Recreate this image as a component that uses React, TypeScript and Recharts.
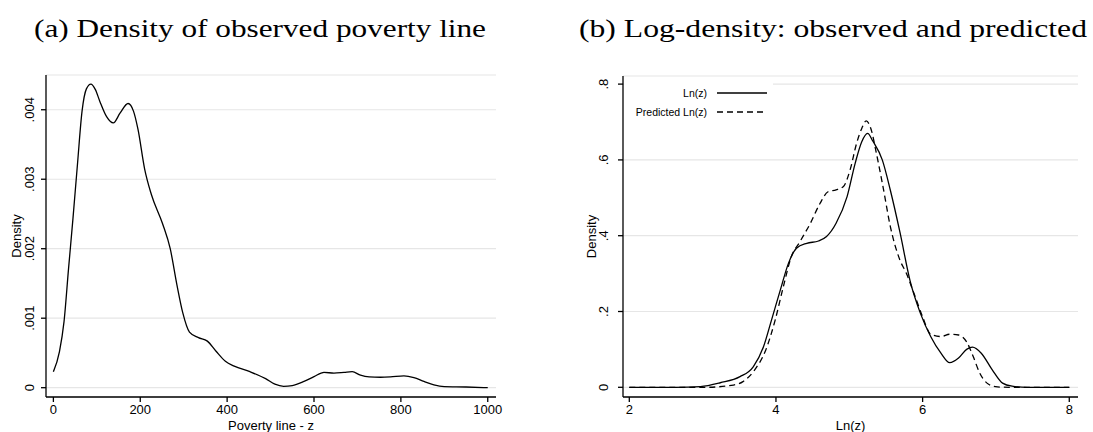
import { LineChart, Line, XAxis, YAxis, CartesianGrid, Legend } from "recharts";

// (a) observed poverty line density
const povertyLineZ = [
  0, 14, 24.5, 35, 45, 55.5, 66, 76, 86.4, 96.7, 107, 122.5, 138, 153.4, 172, 184.4, 194.7, 210, 225.6, 251.4,
  269, 284.4, 297.8, 313.3, 334, 354.5, 375, 396, 416.4, 452.5, 488.6, 510, 530, 550, 577, 600, 623, 646, 669,
  688, 707, 727, 753, 776, 807, 830, 853, 876, 900, 950, 1000,
];
const povertyLineDensity = [
  0.00023, 0.00052, 0.00095, 0.00172, 0.00243, 0.00322, 0.00398, 0.0043, 0.00437, 0.00429, 0.00412, 0.0039,
  0.00381, 0.00395, 0.00409, 0.00398, 0.00372, 0.00315, 0.00278, 0.00236, 0.002, 0.00148, 0.00108, 0.0008,
  0.00072, 0.00067, 0.00052, 0.00038, 0.00031, 0.00023, 0.00013, 0.00005, 0.00002, 0.00003, 0.00009, 0.00016,
  0.00022, 0.00021, 0.00022, 0.00023, 0.00018, 0.000155, 0.00015, 0.000155, 0.00017, 0.000145, 0.00009,
  0.00004, 0.000015, 0.00001, 0,
];
const povertyTicksX = [0, 200, 400, 600, 800, 1000];
const povertyTicksY = [0, 0.001, 0.002, 0.003, 0.004];

// (b) log density, observed and predicted
const lnZ = [
  2, 2.63, 2.97, 3.24, 3.51, 3.69, 3.83, 3.94, 4.06, 4.17, 4.28, 4.42, 4.58, 4.69, 4.82, 4.97, 5.08, 5.17,
  5.25, 5.32, 5.45, 5.56, 5.69, 5.83, 5.97, 6.11, 6.25, 6.37, 6.49, 6.6, 6.68, 6.8, 6.95, 7.09, 7.22, 7.43, 8,
];
const lnZDensity = [
  0, 0, 0.002, 0.012, 0.028, 0.054, 0.107, 0.178, 0.257, 0.327, 0.367, 0.38, 0.386, 0.398, 0.433, 0.503, 0.591,
  0.648, 0.67, 0.65, 0.6, 0.52, 0.41, 0.28, 0.195, 0.134, 0.09, 0.065, 0.077, 0.1, 0.106, 0.09, 0.046, 0.011,
  0.003, 0, 0,
];
const predLnZ = [
  2, 3.04, 3.42, 3.55, 3.71, 3.86, 3.99, 4.1, 4.21, 4.32, 4.47, 4.6, 4.71, 4.82, 4.92, 5.01, 5.1, 5.17, 5.23,
  5.3, 5.37, 5.46, 5.56, 5.69, 5.78, 5.88, 6.0, 6.11, 6.25, 6.37, 6.49, 6.6, 6.69, 6.78, 6.9, 7.02, 7.22, 8,
];
const predLnZDensity = [
  0, 0, 0.006, 0.015, 0.046, 0.098, 0.178, 0.265, 0.345, 0.382, 0.433, 0.485, 0.516, 0.521, 0.53, 0.573, 0.644,
  0.683, 0.703, 0.679, 0.617, 0.529, 0.424, 0.336, 0.3, 0.249, 0.186, 0.14, 0.134, 0.14, 0.138, 0.12, 0.081,
  0.037, 0.008, 0.001, 0, 0,
];
const lnTicksX = [2, 4, 6, 8];
const lnTicksY = [0, 0.2, 0.4, 0.6, 0.8];

const povertyData = povertyLineZ.map((z, i) => ({ z, density: povertyLineDensity[i] }));
const observedData = lnZ.map((x, i) => ({ x, density: lnZDensity[i] }));
const predictedData = predLnZ.map((x, i) => ({ x, density: predLnZDensity[i] }));

const SANS = "'Liberation Sans', Arial, Helvetica, sans-serif";
const GRID = "#e6e6e6";

const fmtDensity = (v: number) => (v === 0 ? "0" : String(v).replace(/^0/, ""));

function RotTick(props: any) {
  const { x, y, payload, shift } = props;
  const cx = x - shift;
  return (
    <text
      x={cx}
      y={y}
      transform={`rotate(-90, ${cx}, ${y})`}
      textAnchor="middle"
      dominantBaseline="central"
      fontSize={13}
      fontFamily={SANS}
      fill="#000"
    >
      {fmtDensity(payload.value)}
    </text>
  );
}

function yTitle(cx: number) {
  return (props: any) => {
    const vb = props.viewBox || {};
    const cy = vb.y + vb.height / 2;
    return (
      <text
        x={cx}
        y={cy}
        transform={`rotate(-90, ${cx}, ${cy})`}
        textAnchor="middle"
        dominantBaseline="central"
        fontSize={13}
        fontFamily={SANS}
        fill="#000"
      >
        Density
      </text>
    );
  };
}

const legendRowY = [15, 34];

function LegendBox(props: any) {
  const payload = props.payload || [];
  return (
    <svg width={149} height={44} style={{ display: "block", background: "#fff" }}>
      {payload.map((entry: any, i: number) => (
        <g key={entry.value}>
          <text
            x={83}
            y={legendRowY[i]}
            textAnchor="end"
            dominantBaseline="central"
            fontSize={10.5}
            fontFamily={SANS}
            fill="#000"
          >
            {entry.value}
          </text>
          <line
            x1={93}
            x2={143}
            y1={legendRowY[i]}
            y2={legendRowY[i]}
            stroke="#000"
            strokeWidth={1.3}
            strokeDasharray={entry.payload && entry.payload.strokeDasharray}
          />
        </g>
      ))}
    </svg>
  );
}

const tickStyle = { fill: "#000", fontSize: 13, fontFamily: SANS };

export default function App() {
  return (
    <div style={{ position: "absolute", left: 0, top: 0, width: 1093, height: 432, background: "#fff" }}>
      <svg width={1093} height={60} style={{ position: "absolute", left: 0, top: 0 }}>
        <text
          x={260}
          y={37}
          textAnchor="middle"
          fontFamily="'Liberation Serif', 'DejaVu Serif', serif"
          fontSize={25}
          textLength={452}
          lengthAdjust="spacingAndGlyphs"
        >
          (a) Density of observed poverty line
        </text>
        <text
          x={833}
          y={37}
          textAnchor="middle"
          fontFamily="'Liberation Serif', 'DejaVu Serif', serif"
          fontSize={25}
          textLength={508}
          lengthAdjust="spacingAndGlyphs"
        >
          (b) Log-density: observed and predicted
        </text>
      </svg>

      <div style={{ position: "absolute", left: 0, top: 0 }}>
        <LineChart width={546} height={432} data={povertyData} margin={{ top: 75, right: 50, bottom: 0, left: 0 }}>
          <CartesianGrid vertical={false} stroke={GRID} strokeWidth={1.2} />
          <XAxis
            type="number"
            dataKey="z"
            domain={[-17, 1019]}
            ticks={povertyTicksX}
            allowDataOverflow
            height={35}
            tickSize={5}
            tickMargin={3}
            stroke="#000"
            strokeWidth={1.3}
            tick={tickStyle}
            label={{ value: "Poverty line - z", position: "insideBottom", offset: 2, fill: "#000", fontSize: 13, fontFamily: SANS }}
          />
          <YAxis
            type="number"
            domain={[-0.000134, 0.0045]}
            ticks={povertyTicksY}
            allowDataOverflow
            width={46}
            tickSize={5}
            stroke="#000"
            strokeWidth={1.3}
            tick={(p: any) => <RotTick {...p} shift={9} />}
            label={yTitle(16.7)}
          />
          <Line
            dataKey="density"
            type="monotone"
            stroke="#000"
            strokeWidth={1.3}
            dot={false}
            activeDot={false}
            isAnimationActive={false}
          />
        </LineChart>
      </div>

      <div style={{ position: "absolute", left: 546, top: 0 }}>
        <LineChart width={547} height={432} margin={{ top: 76, right: 15, bottom: 0, left: 0 }}>
          <CartesianGrid vertical={false} stroke={GRID} strokeWidth={1.2} />
          <XAxis
            type="number"
            dataKey="x"
            domain={[1.914, 8.119]}
            ticks={lnTicksX}
            allowDataOverflow
            height={35}
            tickSize={5}
            tickMargin={3}
            stroke="#000"
            strokeWidth={1.3}
            tick={tickStyle}
            label={{ value: "Ln(z)", position: "insideBottom", offset: 2, fill: "#000", fontSize: 13, fontFamily: SANS }}
          />
          <YAxis
            type="number"
            domain={[-0.0256, 0.8214]}
            ticks={lnTicksY}
            allowDataOverflow
            width={77}
            tickSize={5}
            stroke="#000"
            strokeWidth={1.3}
            tick={(p: any) => <RotTick {...p} shift={12} />}
            label={yTitle(45.7)}
          />
          <Legend
            layout="horizontal"
            verticalAlign="middle"
            align="center"
            wrapperStyle={{ left: 78, top: 78, width: 149, height: 44 }}
            content={LegendBox}
          />
          <Line
            data={observedData}
            dataKey="density"
            name="Ln(z)"
            type="monotone"
            stroke="#000"
            strokeWidth={1.3}
            dot={false}
            activeDot={false}
            isAnimationActive={false}
          />
          <Line
            data={predictedData}
            dataKey="density"
            name="Predicted Ln(z)"
            type="monotone"
            stroke="#000"
            strokeWidth={1.3}
            strokeDasharray="6 4"
            dot={false}
            activeDot={false}
            isAnimationActive={false}
          />
        </LineChart>
      </div>
    </div>
  );
}
